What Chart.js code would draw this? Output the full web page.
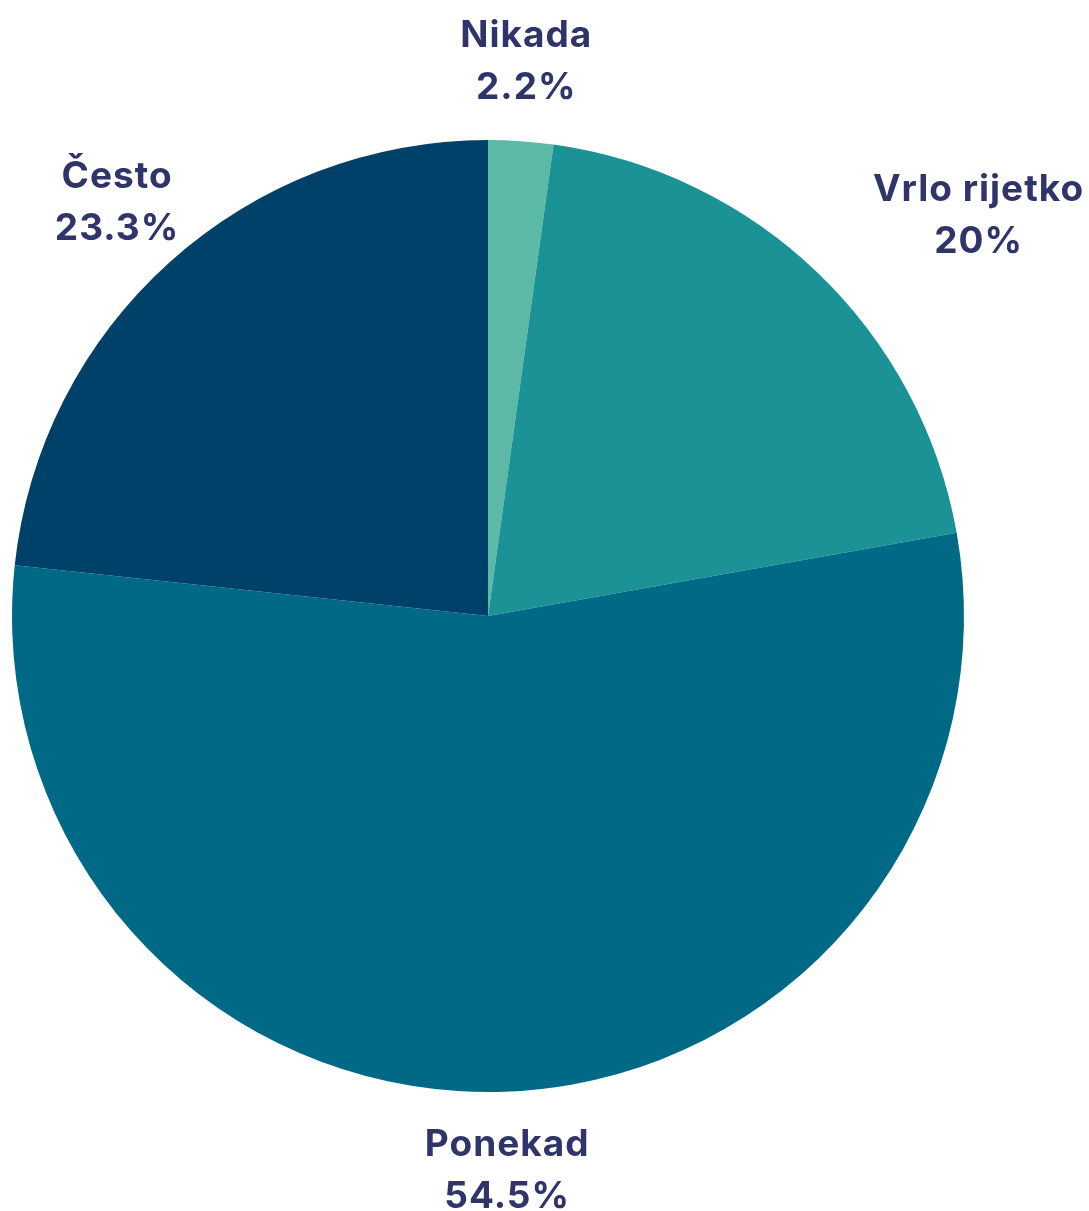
<!DOCTYPE html>
<html lang="hr">

<head>
    <meta charset="UTF-8">
    <title>Pie</title>
    <style>
        body { margin: 0; background: #fff; }
    </style>
</head>

<body>
    <canvas id="myChart" width="1089" height="1211"></canvas>

    <script src="https://cdn.jsdelivr.net/npm/chart.js"></script>
    <script>
        const kategorije = ['Nikada', 'Vrlo rijetko', 'Ponekad', 'Često'];
        const postoci = [2.2, 20, 54.5, 23.3];
        const boje = ['#5bb9a6', '#1b9396', '#006a86', '#00416a'];
        const poravnanje = ['center', 'left', 'center', 'center'];

        // labels outside the pie, two lines: name + percent
        const vanjskeOznake = {
            id: 'vanjskeOznake',
            afterDatasetsDraw(chart) {
                const c = chart.ctx;
                const meta = chart.getDatasetMeta(0);
                c.save();
                c.fillStyle = '#2f356b';
                c.font = 'bold 37px Inter, "DejaVu Sans", sans-serif';
                c.letterSpacing = '1px';
                c.textBaseline = 'middle';
                c.textAlign = 'center';
                meta.data.forEach((arc, i) => {
                    const kut = (arc.startAngle + arc.endAngle) / 2;
                    const r = arc.outerRadius + 79;
                    let x = arc.x + Math.cos(kut) * r;
                    const y = arc.y + Math.sin(kut) * r;
                    const tekst = postoci[i] + '%';
                    if (poravnanje[i] === 'left') {
                        const w = Math.max(c.measureText(kategorije[i]).width, c.measureText(tekst).width);
                        x += w / 2;
                    }
                    c.fillText(kategorije[i], x, y - 26);
                    c.fillText(tekst, x, y + 26);
                });
                c.restore();
            }
        };

        new Chart(document.getElementById('myChart'), {
            type: 'pie',
            data: {
                labels: kategorije,
                datasets: [{
                    data: postoci,
                    backgroundColor: boje,
                    borderWidth: 0
                }]
            },
            options: {
                responsive: false,
                animation: false,
                layout: { padding: { left: 11, right: 124, top: 140, bottom: 119 } },
                plugins: {
                    legend: { display: false },
                    tooltip: { enabled: false }
                }
            },
            plugins: [vanjskeOznake]
        });
    </script>
</body>

</html>
